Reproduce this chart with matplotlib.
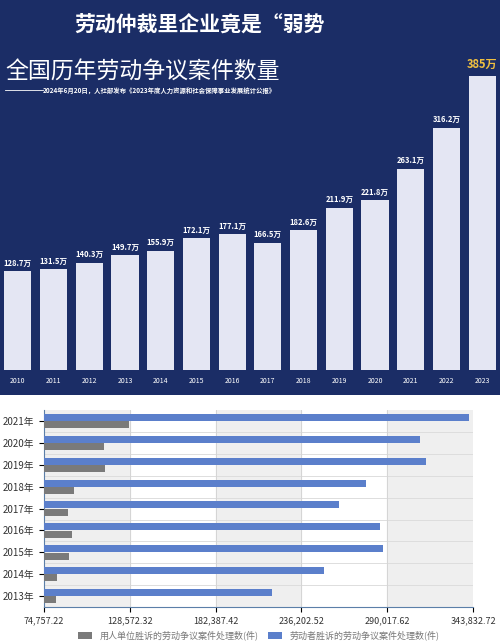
import matplotlib
matplotlib.use("Agg")
import matplotlib.pyplot as plt

plt.rcParams['font.family'] = ['Noto Sans CJK SC', 'DejaVu Sans']

years = [2010, 2011, 2012, 2013, 2014, 2015, 2016, 2017, 2018, 2019, 2020, 2021, 2022, 2023]
cases = [128.7, 131.5, 140.3, 149.7, 155.9, 172.1, 177.1, 166.5, 182.6, 211.9, 221.8, 263.1, 316.2, 385]
labels = ["128.7万", "131.5万", "140.3万", "149.7万", "155.9万", "172.1万", "177.1万", "166.5万",
          "182.6万", "211.9万", "221.8万", "263.1万", "316.2万", "385万"]

h_years = ["2013年", "2014年", "2015年", "2016年", "2017年", "2018年", "2019年", "2020年", "2021年"]
employer_wins = [82500, 82700, 90700, 92300, 89800, 93600, 112800, 112200, 127900]
worker_wins = [217600, 250200, 287600, 285800, 259800, 276700, 314100, 310800, 341300]
xticks = [74757.22, 128572.32, 182387.42, 236202.52, 290017.62, 343832.72]

fig = plt.figure(figsize=(5, 6.41), dpi=100)
bg = fig.add_axes([0, 1 - 395/641, 1, 395/641], zorder=-5)
bg.set_facecolor('#1b2d66')
bg.set_xticks([]); bg.set_yticks([])
for s in bg.spines.values():
    s.set_visible(False)

fig.text(0.40, 1 - 25/641, "劳动仲裁里企业竟是“弱势", color='white', fontsize=15,
         fontweight='bold', ha='center', va='center')
fig.text(0.01, 1 - 72/641, "全国历年劳动争议案件数量", color='white', fontsize=16.5,
         ha='left', va='center')
fig.text(0.085, 1 - 90/641, "2024年6月20日，人社部发布《2023年度人力资源和社会保障事业发展统计公报》",
         color='white', fontsize=4.6, ha='left', va='center', fontweight='bold')
fig.add_artist(plt.Line2D([0.01, 0.085], [1 - 90/641]*2, color='white', lw=0.6))

ax = fig.add_axes([0, 0.423, 1, 0.477])
ax.set_facecolor('none')
x = list(range(len(years)))
ax.bar(x, cases, width=0.76, color='#e4e6f3')
for i, (v, l) in enumerate(zip(cases, labels)):
    if i == len(cases) - 1:
        ax.text(i, v + 6, l, color='#f0c040', fontsize=8, fontweight='bold', ha='center', va='bottom')
    else:
        ax.text(i, v + 5, l, color='white', fontsize=5.5, fontweight='bold', ha='center', va='bottom')
    ax.text(i, -14, str(years[i]), color='white', fontsize=5, ha='center', va='center')
ax.set_xlim(-0.5, 13.5)
ax.set_ylim(0, 400)
ax.axis('off')

bx = fig.add_axes([0.088, 0.053, 0.858, 0.307])
bx.set_xlim(xticks[0], xticks[-1])
for i in range(len(xticks) - 1):
    if i % 2 == 0:
        bx.axvspan(xticks[i], xticks[i + 1], color='#efefef', zorder=0)
y = list(range(len(h_years)))
bx.barh([v + 0.17 for v in y], worker_wins, height=0.32, color='#5b7fcb', zorder=3,
        label='劳动者胜诉的劳动争议案件处理数(件)')
bx.barh([v - 0.17 for v in y], employer_wins, height=0.32, color='#7a7a7a', zorder=3,
        label='用人单位胜诉的劳动争议案件处理数(件)')
bx.set_ylim(-0.5, len(h_years) - 0.5)
for v in y[:-1]:
    bx.axhline(v + 0.5, color='#dddddd', lw=0.7, zorder=1)
for t in xticks[1:-1]:
    bx.axvline(t, color='#d5d5d5', lw=0.7, zorder=1)
bx.set_yticks(y)
bx.set_yticklabels(h_years, fontsize=7, color='#333333')
bx.set_xticks(xticks)
bx.set_xticklabels([f"{t:,.2f}" for t in xticks], fontsize=6.5, color='#333333')
for s in ['top', 'right']:
    bx.spines[s].set_visible(False)
bx.spines['left'].set_color('#5b7fa8')
bx.spines['bottom'].set_color('#5b7fa8')
h, l = bx.get_legend_handles_labels()
bx.legend(h[::-1], l[::-1], loc='upper center', bbox_to_anchor=(0.5, -0.08), ncol=2,
          frameon=False, fontsize=6.5, handlelength=1.6, columnspacing=1, labelcolor='#777777')

fig.savefig("out.png", dpi=100)
